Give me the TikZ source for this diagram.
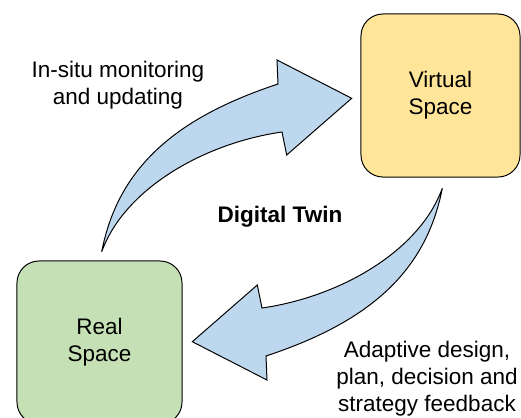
\documentclass[tikz,border=0pt]{standalone}
\usepackage{fontspec}
\setmainfont{Liberation Sans}

\definecolor{virtualyellow}{HTML}{FFE599}
\definecolor{realgreen}{HTML}{C5E0B4}
\definecolor{twinblue}{HTML}{BDD7EE}

\tikzset{
  spacebox/.style={draw=black, line width=0.7pt, rounded corners=0.55cm, align=center, inner sep=0pt},
  twinarrow/.style={draw=black, line width=0.7pt, fill=twinblue, line join=miter},
  flowtext/.style={align=center, inner sep=0pt}
}

\begin{document}
\begin{tikzpicture}[x=0.025cm, y=-0.025cm, font=\fontsize{16}{19.2}\selectfont]
\useasboundingbox (0,0) rectangle (521,417);
\clip (0,0) rectangle (521,417);
%\draw[step=20,gray,very thin] (0,0) grid (521,417); %background grid

\node[spacebox, fill=virtualyellow, minimum width=3.975cm, minimum height=4.075cm] (virtual) at (440.5,95.5) {Virtual\\Space};
\node[spacebox, fill=realgreen, minimum width=4.125cm, minimum height=4.075cm] (real) at (99.5,342.5) {Real\\Space};

% real -> virtual
\draw[twinarrow] (101.7,251.7) .. controls (118,168) and (175,118) .. (278,84) -- (277,60) -- (351.7,98.3) -- (286.7,155) -- (282,132) .. controls (205,143) and (125,188) .. cycle;
% virtual -> real
\draw[twinarrow] (442.3,188.3) .. controls (426,272) and (369,322) .. (266,356) -- (267,380) -- (192.3,341.7) -- (257.3,285) -- (262,308) .. controls (339,297) and (419,252) .. cycle;

\node[flowtext] (monitor) at (118,84.7) {In-situ monitoring\\and updating};
\node[flowtext] (twin) at (280,217) {\textbf{Digital Twin}};
\node[flowtext] (feedback) at (427,378.4) {Adaptive design,\\plan, decision and\\strategy feedback};
\end{tikzpicture}
\end{document}
